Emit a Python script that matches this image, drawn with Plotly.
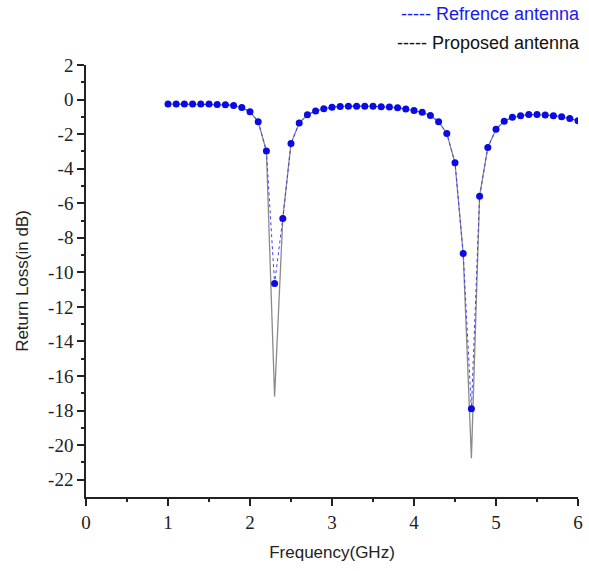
import plotly.graph_objects as go

# Frequency sweep (GHz)
freq = [1.0, 1.1, 1.2, 1.3, 1.4, 1.5, 1.6, 1.7, 1.8, 1.9,
        2.0, 2.1, 2.2, 2.3, 2.4, 2.5, 2.6, 2.7, 2.8, 2.9,
        3.0, 3.1, 3.2, 3.3, 3.4, 3.5, 3.6, 3.7, 3.8, 3.9,
        4.0, 4.1, 4.2, 4.3, 4.4, 4.5, 4.6, 4.7, 4.8, 4.9,
        5.0, 5.1, 5.2, 5.3, 5.4, 5.5, 5.6, 5.7, 5.8, 5.9, 6.0]

# Return loss of the reference antenna (dB)
rl_reference = [-0.26, -0.26, -0.26, -0.26, -0.26, -0.26, -0.28, -0.30, -0.34, -0.46,
                -0.71, -1.28, -2.98, -10.65, -6.88, -2.54, -1.36, -0.88, -0.66, -0.53,
                -0.44, -0.40, -0.38, -0.38, -0.38, -0.39, -0.41, -0.43, -0.47, -0.55,
                -0.63, -0.74, -0.92, -1.28, -1.96, -3.66, -8.91, -17.89, -5.59, -2.77,
                -1.72, -1.25, -1.03, -0.93, -0.87, -0.87, -0.89, -0.93, -0.99, -1.10, -1.22]

# Return loss of the proposed antenna (dB)
rl_proposed = [-0.26, -0.26, -0.26, -0.26, -0.26, -0.26, -0.28, -0.30, -0.34, -0.46,
               -0.71, -1.28, -2.98, -17.2, -6.88, -2.54, -1.36, -0.88, -0.66, -0.53,
               -0.44, -0.40, -0.38, -0.38, -0.38, -0.39, -0.41, -0.43, -0.47, -0.55,
               -0.63, -0.74, -0.92, -1.28, -1.96, -3.66, -8.91, -20.75, -5.59, -2.77,
               -1.72, -1.25, -1.03, -0.93, -0.87, -0.87, -0.89, -0.93, -0.99, -1.10, -1.22]

x_ticks = [0, 1, 2, 3, 4, 5, 6]
x_minor_ticks = [0.5, 1.5, 2.5, 3.5, 4.5, 5.5]
y_ticks = [2, 0, -2, -4, -6, -8, -10, -12, -14, -16, -18, -20, -22]
y_minor_ticks = [1, -1, -3, -5, -7, -9, -11, -13, -15, -17, -19, -21]
# plain hyphen-minus labels
y_labels = [str(v) for v in y_ticks]
x_labels = [str(v) for v in x_ticks]

x_range = [0, 6]
y_range = [-23, 2]

ref_name = "Refrence antenna"
prop_name = "Proposed antenna"

fig = go.Figure()

fig.add_trace(go.Scatter(
    x=freq, y=rl_proposed, mode="lines", name=prop_name,
    line=dict(color="#8a8a8a", width=1.3),
    showlegend=False,
))
# Reference curve sits on the overlay axes (same ranges) so its dots draw on top
fig.add_trace(go.Scatter(
    x=freq, y=rl_reference, mode="lines+markers", name=ref_name,
    line=dict(color="#4040ff", width=1, dash="dot"),
    marker=dict(color="#0a0ae6", size=7),
    showlegend=False, xaxis="x2", yaxis="y2",
))

serif = "Liberation Serif"
sans = "Liberation Sans"
tick_font = dict(family=serif, size=19, color="#222")
title_font = dict(family=sans, size=17, color="#222")

fig.update_layout(
    width=589, height=571,
    margin=dict(l=86, r=6, t=65, b=74),
    paper_bgcolor="white", plot_bgcolor="white",
    font=dict(family=serif, size=19, color="#222"),
    xaxis=dict(
        range=x_range, tickmode="array", tickvals=x_ticks, ticktext=x_labels,
        ticks="outside", ticklen=7, tickwidth=1.5, tickcolor="#222",
        showline=True, linecolor="#222", linewidth=1.5,
        showgrid=False, zeroline=False, tickfont=tick_font,
        title=dict(text="Frequency(GHz)", font=title_font),
    ),
    yaxis=dict(
        range=y_range, tickmode="array", tickvals=y_ticks, ticktext=y_labels,
        ticks="outside", ticklen=7, tickwidth=1.5, tickcolor="#222",
        showline=True, linecolor="#222", linewidth=1.5,
        showgrid=False, zeroline=False, tickfont=tick_font,
        title=dict(text="Return Loss(in dB)", font=title_font),
    ),
    # overlay axes carrying the short unlabeled intermediate ticks
    xaxis2=dict(
        range=x_range, overlaying="x", anchor="y2", side="bottom",
        tickmode="array", tickvals=x_minor_ticks, showticklabels=False,
        ticks="outside", ticklen=4, tickwidth=1.5, tickcolor="#222",
        showline=False, showgrid=False, zeroline=False,
    ),
    yaxis2=dict(
        range=y_range, overlaying="y", anchor="x2", side="left",
        tickmode="array", tickvals=y_minor_ticks, showticklabels=False,
        ticks="outside", ticklen=4, tickwidth=1.5, tickcolor="#222",
        showline=False, showgrid=False, zeroline=False,
    ),
)

# Legend drawn as coloured text lines in the top-right corner
fig.add_annotation(
    text="----- " + ref_name, xref="paper", yref="paper", x=1.0, y=1.0,
    xanchor="right", yanchor="middle", yshift=51, xshift=4, showarrow=False,
    font=dict(family=sans, size=18, color="#1a1af0"), align="left",
)
fig.add_annotation(
    text="----- " + prop_name, xref="paper", yref="paper", x=1.0, y=1.0,
    xanchor="right", yanchor="middle", yshift=22, xshift=4, showarrow=False,
    font=dict(family=sans, size=18, color="#111"), align="left",
)

fig.write_html("out.html")
